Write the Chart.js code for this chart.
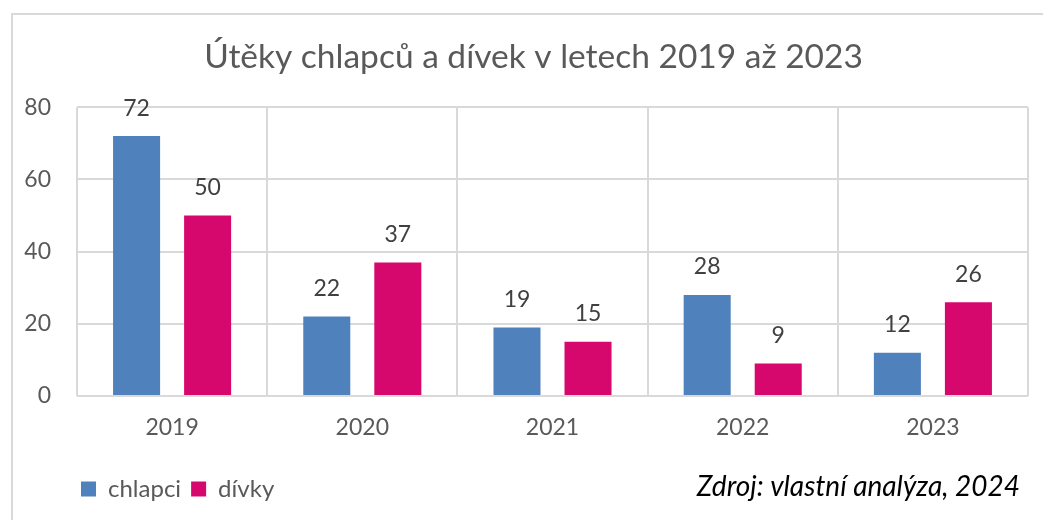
<!DOCTYPE html>
<html lang="cs">
<head>
    <meta charset="UTF-8">
    <title>Útěky chlapců a dívek</title>
    <script src="https://cdn.jsdelivr.net/npm/chart.js"></script>
    <style>
        body { margin: 0; padding: 0; background: #ffffff; }
        #wrap { width: 1043px; height: 520px; position: relative; }
    </style>
</head>
<body>
<div id="wrap"><canvas id="chart" width="1043" height="520"></canvas></div>
<script>
    // Data
    const years = ['2019', '2020', '2021', '2022', '2023'];
    const chlapci = [72, 22, 19, 28, 12];
    const divky = [50, 37, 15, 9, 26];
    const yTicks = [0, 20, 40, 60, 80];

    const FONT = 'Lato, "Open Sans", sans-serif';
    const GRID = '#d9d9d9';

    // ramecek kolem grafu (jen horni a leva hrana jsou videt)
    const framePlugin = {
        id: 'frame',
        beforeDraw(chart) {
            const ctx = chart.ctx;
            ctx.save();
            ctx.fillStyle = '#fff';
            ctx.fillRect(0, 0, chart.width, chart.height);
            ctx.strokeStyle = GRID;
            ctx.lineWidth = 2;
            ctx.beginPath();
            ctx.moveTo(12, chart.height);
            ctx.lineTo(12, 14);
            ctx.lineTo(chart.width, 14);
            ctx.stroke();
            ctx.restore();
        }
    };

    // popisky hodnot nad sloupci
    const valuesPlugin = {
        id: 'values',
        afterDatasetsDraw(chart) {
            const ctx = chart.ctx;
            ctx.save();
            ctx.font = '23px ' + FONT;
            ctx.fillStyle = '#404040';
            ctx.textAlign = 'center';
            ctx.textBaseline = 'middle';
            chart.data.datasets.forEach((ds, i) => {
                chart.getDatasetMeta(i).data.forEach((bar, j) => {
                    ctx.fillText(ds.data[j], bar.x, bar.y - 28);
                });
            });
            ctx.restore();
        }
    };

    // zdroj vpravo dole + posun titulku a legendy
    const sourcePlugin = {
        id: 'source',
        afterLayout(chart) {
            chart.titleBlock.left += 14;
            chart.titleBlock.right += 14;
            chart.legend.left += 60;
            chart.legend.right += 60;
        },
        afterDraw(chart) {
            const ctx = chart.ctx;
            ctx.save();
            ctx.font = 'italic 28px ' + FONT;
            ctx.fillStyle = '#000';
            ctx.textAlign = 'right';
            ctx.textBaseline = 'middle';
            ctx.fillText('Zdroj: vlastní analýza, 2024', 1020, 487);
            ctx.restore();
        }
    };

    const config = {
        type: 'bar',
        data: {
            labels: years,
            datasets: [
                {
                    label: 'chlapci',
                    data: chlapci,
                    backgroundColor: '#4f81bd',
                    categoryPercentage: 0.747,
                    barPercentage: 0.662
                },
                {
                    label: 'dívky',
                    data: divky,
                    backgroundColor: '#d6086e',
                    categoryPercentage: 0.747,
                    barPercentage: 0.662
                }
            ]
        },
        options: {
            responsive: false,
            animation: false,
            layout: { padding: { left: 11, right: 15, top: 0, bottom: 9 } },
            scales: {
                x: {
                    grid: { color: GRID, lineWidth: 2, drawTicks: false },
                    border: { display: false },
                    ticks: { color: '#595959', font: { family: FONT, size: 23 }, padding: 18 },
                    afterFit(scale) { scale.height = 71; }
                },
                y: {
                    min: 0,
                    max: 80,
                    afterBuildTicks(scale) { scale.ticks = yTicks.map(v => ({ value: v })); },
                    grid: { color: GRID, lineWidth: 2, drawTicks: false },
                    border: { display: false },
                    ticks: { color: '#595959', font: { family: FONT, size: 23 }, padding: 26 },
                    afterFit(scale) { scale.width = 66; }
                }
            },
            plugins: {
                title: {
                    display: true,
                    text: 'Útěky chlapců a dívek v letech 2019 až 2023',
                    color: '#595959',
                    font: { family: FONT, size: 33.5, weight: 'normal' },
                    padding: { top: 37, bottom: 30 }
                },
                legend: {
                    position: 'bottom',
                    align: 'start',
                    labels: {
                        boxWidth: 15,
                        boxHeight: 15,
                        color: '#595959',
                        font: { family: FONT, size: 24 },
                        padding: 10
                    }
                },
                tooltip: { enabled: false }
            }
        },
        plugins: [framePlugin, valuesPlugin, sourcePlugin]
    };

    new Chart(document.getElementById('chart').getContext('2d'), config);
</script>
</body>
</html>
